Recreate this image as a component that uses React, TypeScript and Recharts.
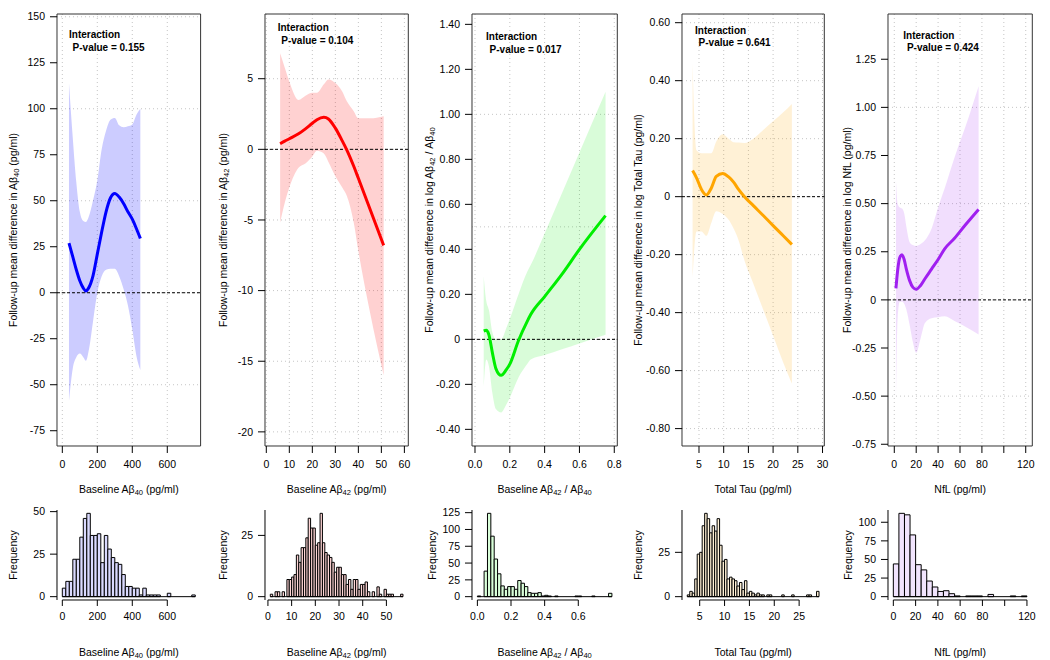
import React from "react";
import {
  ComposedChart,
  Area,
  Line,
  Bar,
  XAxis,
  YAxis,
  CartesianGrid,
  ReferenceLine,
  ReferenceArea,
} from "recharts";

const FONT = '"Liberation Sans", Arial, Helvetica, sans-serif';

// ---- Abeta40
const ab40X = [38, 60, 80, 100, 120, 135, 150, 175, 200, 225, 250, 275, 300, 325, 350, 375, 400, 425, 446];
const ab40Fit = [27, 19.5, 12.5, 6.5, 2.5, 1, 2.5, 9, 21, 33, 44, 51.5, 54, 52, 48.5, 44, 40, 34.5, 29.5];
const ab40Hi = [114, 84, 60, 44, 39, 38.5, 41, 50, 61, 78, 88, 94, 95, 91, 90, 90.5, 91.5, 97, 100];
const ab40Lo = [-59, -41, -35, -33, -35, -37, -32, -16, 0, 9, 12.5, 13, 13, 9, 2, -7, -20, -35, -42];
const ab40BinStart = 0;
const ab40BinWidth = 20;
const ab40Counts = [5, 9, 9, 22, 22, 35, 46, 49, 36, 36, 37, 20, 36, 28, 23, 20, 19, 13, 6, 6, 5, 5, 1, 5, 1, 1, 1, 1, 0, 0, 2, 0, 0, 0, 0, 0, 0, 1];

// ---- Abeta42
const ab42X = [6, 8, 10, 14, 17, 20, 22, 25, 27, 30, 33, 35, 38, 40, 45, 51];
const ab42Fit = [0.4, 0.58, 0.75, 1.1, 1.45, 1.85, 2.1, 2.27, 2.15, 1.5, 0.6, -0.05, -1.2, -2.05, -4.2, -6.8];
const ab42Hi = [6.8, 5.8, 4.8, 3.5, 3.8, 4.0, 4.0, 4.6, 4.95, 4.7, 4.1, 3.4, 2.7, 2.2, 2.2, 2.35];
const ab42Lo = [-5.2, -3.8, -2.7, -1.3, -1.0, -0.5, -0.1, -0.3, -0.9, -1.9, -2.7, -3.3, -5.2, -7.2, -11.5, -16];
const ab42BinStart = 1;
const ab42BinWidth = 1;
const ab42Counts = [1, 0, 2, 2, 0, 2, 0, 7, 7, 8, 9, 17, 14, 20, 20, 24, 32, 28, 28, 21, 22, 34, 22, 18, 17, 16, 14, 10, 12, 12, 9, 9, 5, 7, 3, 7, 7, 3, 5, 5, 6, 2, 0, 2, 0, 4, 1, 0, 3, 1, 1, 1, 0, 0, 0, 1];

// ---- Abeta42 / Abeta40
const ratioX = [0.05, 0.065, 0.08, 0.1, 0.12, 0.15, 0.18, 0.2, 0.25, 0.3, 0.32, 0.4, 0.5, 0.6, 0.75];
const ratioFit = [0.037, 0.04, 0.02, -0.06, -0.13, -0.16, -0.135, -0.11, -0.005, 0.08, 0.11, 0.19, 0.29, 0.4, 0.55];
const ratioHi = [0.28, 0.17, 0.13, 0.03, 0.0, 0.0, 0.05, 0.09, 0.2, 0.3, 0.33, 0.47, 0.65, 0.83, 1.1];
const ratioLo = [-0.22, -0.09, -0.12, -0.24, -0.31, -0.325, -0.29, -0.26, -0.17, -0.11, -0.09, -0.07, -0.044, -0.018, 0.02];
const ratioBinStart = 0;
const ratioBinWidth = 0.02;
const ratioCounts = [1, 0, 38, 124, 90, 56, 34, 16, 11, 15, 15, 11, 24, 20, 15, 6, 5, 5, 6, 1, 2, 1, 0, 1, 0, 0, 0, 0, 0, 1, 1, 0, 0, 0, 1, 0, 0, 0, 0, 5];

// ---- Total Tau
const tauX = [3.7, 4.5, 5.5, 6.5, 7.5, 8.5, 9.8, 11, 12, 13, 14.2, 16, 18, 20, 22, 23.8];
const tauFit = [0.09, 0.065, 0.025, 0.006, 0.03, 0.07, 0.08, 0.068, 0.05, 0.025, 0, -0.031, -0.065, -0.1, -0.134, -0.165];
const tauHi = [0.46, 0.16, 0.15, 0.15, 0.15, 0.19, 0.215, 0.2, 0.188, 0.187, 0.185, 0.2, 0.23, 0.26, 0.29, 0.32];
const tauLo = [-0.28, -0.12, -0.12, -0.135, -0.09, -0.05, -0.06, -0.08, -0.11, -0.15, -0.22, -0.3, -0.39, -0.48, -0.57, -0.645];
const tauBinStart = 2.5;
const tauBinWidth = 0.5;
const tauCounts = [1, 3, 2, 10, 24, 25, 40, 47, 44, 36, 40, 37, 44, 29, 20, 21, 10, 11, 10, 9, 6, 8, 4, 9, 2, 3, 2, 1, 2, 1, 1, 0, 1, 1, 0, 0, 0, 0, 1, 0, 0, 0, 1, 0, 0, 0, 0, 0, 1, 1, 0, 0, 3];

// ---- NfL
const nflX = [1.5, 3, 5, 7, 9, 11, 14, 17, 20, 24, 28, 34, 40, 46, 55, 65, 77];
const nflFit = [0.06, 0.15, 0.22, 0.235, 0.21, 0.16, 0.1, 0.065, 0.055, 0.075, 0.11, 0.16, 0.21, 0.265, 0.32, 0.39, 0.47];
const nflHi = [0.62, 0.5, 0.48, 0.475, 0.45, 0.38, 0.3, 0.285, 0.28, 0.29, 0.31, 0.37, 0.48, 0.58, 0.74, 0.9, 1.11];
const nflLo = [-0.55, -0.1, -0.01, -0.01, -0.02, -0.05, -0.13, -0.22, -0.275, -0.2, -0.12, -0.095, -0.09, -0.085, -0.11, -0.14, -0.18];
const nflBinStart = 0;
const nflBinWidth = 5;
const nflCounts = [44, 112, 110, 83, 43, 36, 21, 13, 7, 8, 4, 1, 0, 1, 1, 1, 0, 3, 0, 0, 0, 1, 0, 1];

const fmt2 = (v: number) => (v === 0 ? "0" : v.toFixed(2));
const fmt1 = (v: number) => v.toFixed(1);
const skip100 = (v: number) => (v === 100 ? "" : String(v));

const tickStyle = { fontSize: 10.5, fill: "#000" };
const tickLineStyle = { stroke: "#000" };

const TOP_Y0 = 14;
const TOP_Y1 = 446;
const H_Y0 = 510;
const H_Y1 = 600;
const AX_W = 50;
const PAD_T = 4;
const PAD_R = 8;
const AX_H = 30;

type TopProps = {
  x0: number;
  x1: number;
  xDomain: [number, number];
  yDomain: [number, number];
  xTicks: number[];
  yTicks: number[];
  gridX: number[];
  gridY: number[];
  xs: number[];
  fit: number[];
  lo: number[];
  hi: number[];
  color: string;
  bandOpacity: number;
  fmtX?: (v: number) => string;
  fmtY?: (v: number) => string;
};

function TopPanel(p: TopProps) {
  const data = p.xs.map((x, i) => ({ x, fit: p.fit[i], band: [p.lo[i], p.hi[i]] }));
  const w = p.x1 - p.x0;
  const h = TOP_Y1 - TOP_Y0;
  return (
    <div style={{ position: "absolute", left: p.x0 - AX_W, top: TOP_Y0 - PAD_T }}>
      <ComposedChart
        width={w + AX_W + PAD_R}
        height={h + PAD_T + AX_H}
        data={data}
        margin={{ top: PAD_T, right: PAD_R, bottom: 0, left: 0 }}
      >
        <CartesianGrid stroke="#c4c4c4" strokeDasharray="1 3" horizontalValues={p.gridY} verticalValues={p.gridX} />
        <XAxis
          type="number"
          dataKey="x"
          domain={p.xDomain}
          allowDataOverflow
          ticks={p.xTicks}
          interval={0}
          tickFormatter={p.fmtX}
          height={AX_H}
          axisLine={false}
          tickSize={7}
          tickMargin={8}
          tick={tickStyle}
          tickLine={tickLineStyle}
        />
        <YAxis
          type="number"
          domain={p.yDomain}
          allowDataOverflow
          ticks={p.yTicks}
          interval={0}
          tickFormatter={p.fmtY}
          width={AX_W}
          axisLine={false}
          tickSize={7}
          tickMargin={5}
          tick={tickStyle}
          tickLine={tickLineStyle}
        />
        <Area type="monotone" dataKey="band" stroke="none" fill={p.color} fillOpacity={p.bandOpacity} isAnimationActive={false} />
        <ReferenceLine y={0} stroke="#000" strokeDasharray="3 2" />
        <Line type="monotone" dataKey="fit" stroke={p.color} strokeWidth={3} dot={false} isAnimationActive={false} />
        <ReferenceArea
          x1={p.xDomain[0]}
          x2={p.xDomain[1]}
          y1={p.yDomain[0]}
          y2={p.yDomain[1]}
          fill="none"
          fillOpacity={0}
          stroke="#333"
          strokeWidth={1}
          ifOverflow="visible"
        />
      </ComposedChart>
    </div>
  );
}

type HistProps = {
  x0: number;
  x1: number;
  binStart: number;
  binWidth: number;
  counts: number[];
  xTicks: number[];
  yTicks: number[];
  fill: string;
  fmtX?: (v: number) => string;
};

function HistPanel(p: HistProps) {
  const n = p.counts.length;
  const lo = p.binStart;
  const hi = p.binStart + n * p.binWidth;
  const ext = 0.04 * (hi - lo);
  const max = Math.max(...p.counts);
  const data = p.counts.map((c, i) => ({ bin: i, mid: lo + (i + 0.5) * p.binWidth, count: c }));
  const w = p.x1 - p.x0;
  const h = H_Y1 - H_Y0;
  const pad = (w * 0.04) / 1.08;
  const band = (w - 2 * pad) / n;
  const yMin = -0.04 * max;
  return (
    <div style={{ position: "absolute", left: p.x0 - AX_W, top: H_Y0 - PAD_T }}>
      <ComposedChart
        width={w + AX_W + PAD_R}
        height={h + PAD_T + AX_H}
        data={data}
        margin={{ top: PAD_T, right: PAD_R, bottom: 0, left: 0 }}
        barCategoryGap={0}
        barGap={0}
      >
        <XAxis
          xAxisId="cat"
          dataKey="bin"
          type="category"
          orientation="top"
          hide
          height={0}
          padding={{ left: pad, right: pad }}
        />
        <XAxis
          xAxisId="num"
          dataKey="mid"
          type="number"
          domain={[lo - ext, hi + ext]}
          allowDataOverflow
          ticks={p.xTicks}
          interval={0}
          tickFormatter={p.fmtX}
          height={AX_H}
          axisLine={false}
          tickSize={6}
          tickMargin={7}
          tick={tickStyle}
          tickLine={tickLineStyle}
        />
        <YAxis
          type="number"
          domain={[yMin, 1.04 * max]}
          allowDataOverflow
          ticks={p.yTicks}
          interval={0}
          width={AX_W}
          axisLine={{ stroke: "#000" }}
          tickSize={7}
          tickMargin={5}
          tick={tickStyle}
          tickLine={tickLineStyle}
        />
        <Bar
          xAxisId="cat"
          dataKey="count"
          fill={p.fill}
          stroke="#000"
          strokeWidth={1}
          barSize={band - 0.001}
          isAnimationActive={false}
        />
        <ReferenceLine
          xAxisId="num"
          segment={[{ x: lo, y: 0 }, { x: hi, y: 0 }]}
          stroke="#000"
          ifOverflow="visible"
        />
        <ReferenceLine
          xAxisId="num"
          segment={[
            { x: p.xTicks[0], y: yMin },
            { x: p.xTicks[p.xTicks.length - 1], y: yMin },
          ]}
          stroke="#000"
          ifOverflow="visible"
        />
      </ComposedChart>
    </div>
  );
}

const Sub = ({ children }: { children: React.ReactNode }) => (
  <span style={{ fontSize: "0.72em", position: "relative", top: "0.28em" }}>{children}</span>
);

function HText({ cx, cy, children }: { cx: number; cy: number; children: React.ReactNode }) {
  return (
    <div
      style={{
        position: "absolute",
        left: cx,
        top: cy,
        transform: "translate(-50%, -50%)",
        whiteSpace: "nowrap",
        fontSize: 10.5,
        lineHeight: 1,
      }}
    >
      {children}
    </div>
  );
}

function VText({ cx, cy, children }: { cx: number; cy: number; children: React.ReactNode }) {
  return (
    <div
      style={{
        position: "absolute",
        left: cx,
        top: cy,
        transform: "translate(-50%, -50%) rotate(-90deg)",
        whiteSpace: "nowrap",
        fontSize: 10.5,
        lineHeight: 1,
      }}
    >
      {children}
    </div>
  );
}

function Note({ x, y, p }: { x: number; y: number; p: string }) {
  const s = { position: "absolute" as const, fontSize: 10, fontWeight: 700, lineHeight: 1, whiteSpace: "nowrap" as const, transform: "translate(0, -50%)" };
  return (
    <>
      <div style={{ ...s, left: x, top: y }}>Interaction</div>
      <div style={{ ...s, left: x + 3.6, top: y + 12.6 }}>P-value = {p}</div>
    </>
  );
}

const BOX1: [number, number] = [57, 200.6];
const BOX2: [number, number] = [265, 408.3];
const BOX3: [number, number] = [472, 617.3];
const BOX4: [number, number] = [682, 824.3];
const BOX5: [number, number] = [888, 1032.3];
const mid = (b: [number, number]) => (b[0] + b[1]) / 2;

export default function App() {
  return (
    <div
      style={{
        position: "absolute",
        left: 0,
        top: 0,
        width: 1050,
        height: 660,
        background: "#fff",
        fontFamily: FONT,
        color: "#000",
        overflow: "hidden",
      }}
    >
      <TopPanel
        x0={BOX1[0]}
        x1={BOX1[1]}
        xDomain={[-30.4, 790.4]}
        yDomain={[-83.3, 151.5]}
        xTicks={[0, 200, 400, 600]}
        yTicks={[-75, -50, -25, 0, 25, 50, 75, 100, 125, 150]}
        gridX={[0, 200, 400, 600]}
        gridY={[-50, 0, 50, 100, 150]}
        xs={ab40X}
        fit={ab40Fit}
        lo={ab40Lo}
        hi={ab40Hi}
        color="#0000ff"
        bandOpacity={0.2}
      />
      <TopPanel
        x0={BOX2[0]}
        x1={BOX2[1]}
        xDomain={[-0.57, 61.7]}
        yDomain={[-21.0, 9.58]}
        xTicks={[0, 10, 20, 30, 40, 50, 60]}
        yTicks={[-20, -15, -10, -5, 0, 5]}
        gridX={[0, 10, 20, 30, 40, 50, 60]}
        gridY={[-20, -15, -10, -5, 0, 5]}
        xs={ab42X}
        fit={ab42Fit}
        lo={ab42Lo}
        hi={ab42Hi}
        color="#ff0000"
        bandOpacity={0.18}
      />
      <TopPanel
        x0={BOX3[0]}
        x1={BOX3[1]}
        xDomain={[-0.0172, 0.8174]}
        yDomain={[-0.474, 1.446]}
        xTicks={[0, 0.2, 0.4, 0.6, 0.8]}
        yTicks={[-0.4, -0.2, 0, 0.2, 0.4, 0.6, 0.8, 1.0, 1.2, 1.4]}
        gridX={[0, 0.2, 0.4, 0.6, 0.8]}
        gridY={[0, 0.5, 1.0]}
        xs={ratioX}
        fit={ratioFit}
        lo={ratioLo}
        hi={ratioHi}
        color="#00ee00"
        bandOpacity={0.15}
        fmtX={fmt1}
        fmtY={fmt2}
      />
      <TopPanel
        x0={BOX4[0]}
        x1={BOX4[1]}
        xDomain={[1.56, 30.36]}
        yDomain={[-0.86, 0.63]}
        xTicks={[5, 10, 15, 20, 25, 30]}
        yTicks={[-0.8, -0.6, -0.4, -0.2, 0, 0.2, 0.4, 0.6]}
        gridX={[5, 10, 15, 20, 25, 30]}
        gridY={[-0.8, -0.6, -0.4, -0.2, 0, 0.2, 0.4, 0.6]}
        xs={tauX}
        fit={tauFit}
        lo={tauLo}
        hi={tauHi}
        color="#ffa500"
        bandOpacity={0.16}
        fmtY={fmt2}
      />
      <TopPanel
        x0={BOX5[0]}
        x1={BOX5[1]}
        xDomain={[-5.75, 126]}
        yDomain={[-0.759, 1.485]}
        xTicks={[0, 20, 40, 60, 80, 100, 120]}
        yTicks={[-0.75, -0.5, -0.25, 0, 0.25, 0.5, 0.75, 1.0, 1.25]}
        gridX={[0, 20, 40, 60, 80, 100, 120]}
        gridY={[-0.5, 0, 0.5, 1.0]}
        xs={nflX}
        fit={nflFit}
        lo={nflLo}
        hi={nflHi}
        color="#a020f0"
        bandOpacity={0.15}
        fmtX={skip100}
        fmtY={fmt2}
      />

      <HistPanel x0={BOX1[0]} x1={BOX1[1]} binStart={ab40BinStart} binWidth={ab40BinWidth} counts={ab40Counts} xTicks={[0, 200, 400, 600]} yTicks={[0, 25, 50]} fill="#dadaff" />
      <HistPanel x0={BOX2[0]} x1={BOX2[1]} binStart={ab42BinStart} binWidth={ab42BinWidth} counts={ab42Counts} xTicks={[0, 10, 20, 30, 40, 50]} yTicks={[0, 25]} fill="#ffd6d6" />
      <HistPanel x0={BOX3[0]} x1={BOX3[1]} binStart={ratioBinStart} binWidth={ratioBinWidth} counts={ratioCounts} xTicks={[0, 0.2, 0.4, 0.6]} yTicks={[0, 25, 50, 75, 100, 125]} fill="#d9ffd9" fmtX={fmt1} />
      <HistPanel x0={BOX4[0]} x1={BOX4[1]} binStart={tauBinStart} binWidth={tauBinWidth} counts={tauCounts} xTicks={[5, 10, 15, 20, 25]} yTicks={[0, 25]} fill="#fff1d6" />
      <HistPanel x0={BOX5[0]} x1={BOX5[1]} binStart={nflBinStart} binWidth={nflBinWidth} counts={nflCounts} xTicks={[0, 20, 40, 60, 80, 100, 120]} yTicks={[0, 25, 50, 75, 100]} fill="#f1e4fd" fmtX={skip100} />

      <Note x={69} y={35} p="0.155" />
      <Note x={277.7} y={28.3} p="0.104" />
      <Note x={486} y={37.3} p="0.017" />
      <Note x={695} y={30.7} p="0.641" />
      <Note x={903.3} y={35.7} p="0.424" />

      <VText cx={13.3} cy={230}>
        Follow-up mean difference in Aβ<Sub>40</Sub> (pg/ml)
      </VText>
      <VText cx={223} cy={230}>
        Follow-up mean difference in Aβ<Sub>42</Sub> (pg/ml)
      </VText>
      <VText cx={429} cy={230}>
        Follow-up mean difference in log Aβ<Sub>42</Sub> / Aβ<Sub>40</Sub>
      </VText>
      <VText cx={638.3} cy={230}>
        Follow-up mean difference in log Total Tau (pg/ml)
      </VText>
      <VText cx={847.3} cy={230}>
        Follow-up mean difference in log NfL (pg/ml)
      </VText>

      <HText cx={mid(BOX1)} cy={489}>
        Baseline Aβ<Sub>40</Sub> (pg/ml)
      </HText>
      <HText cx={mid(BOX2)} cy={489}>
        Baseline Aβ<Sub>42</Sub> (pg/ml)
      </HText>
      <HText cx={mid(BOX3)} cy={489}>
        Baseline Aβ<Sub>42</Sub> / Aβ<Sub>40</Sub>
      </HText>
      <HText cx={mid(BOX4)} cy={489}>
        Total Tau (pg/ml)
      </HText>
      <HText cx={mid(BOX5)} cy={489}>
        NfL (pg/ml)
      </HText>

      <VText cx={13.3} cy={555}>Frequency</VText>
      <VText cx={222.7} cy={555}>Frequency</VText>
      <VText cx={431.7} cy={555}>Frequency</VText>
      <VText cx={638} cy={555}>Frequency</VText>
      <VText cx={848} cy={555}>Frequency</VText>

      <HText cx={mid(BOX1)} cy={652}>
        Baseline Aβ<Sub>40</Sub> (pg/ml)
      </HText>
      <HText cx={mid(BOX2)} cy={652}>
        Baseline Aβ<Sub>42</Sub> (pg/ml)
      </HText>
      <HText cx={mid(BOX3)} cy={652}>
        Baseline Aβ<Sub>42</Sub> / Aβ<Sub>40</Sub>
      </HText>
      <HText cx={mid(BOX4)} cy={652}>
        Total Tau (pg/ml)
      </HText>
      <HText cx={mid(BOX5)} cy={652}>
        NfL (pg/ml)
      </HText>
    </div>
  );
}
